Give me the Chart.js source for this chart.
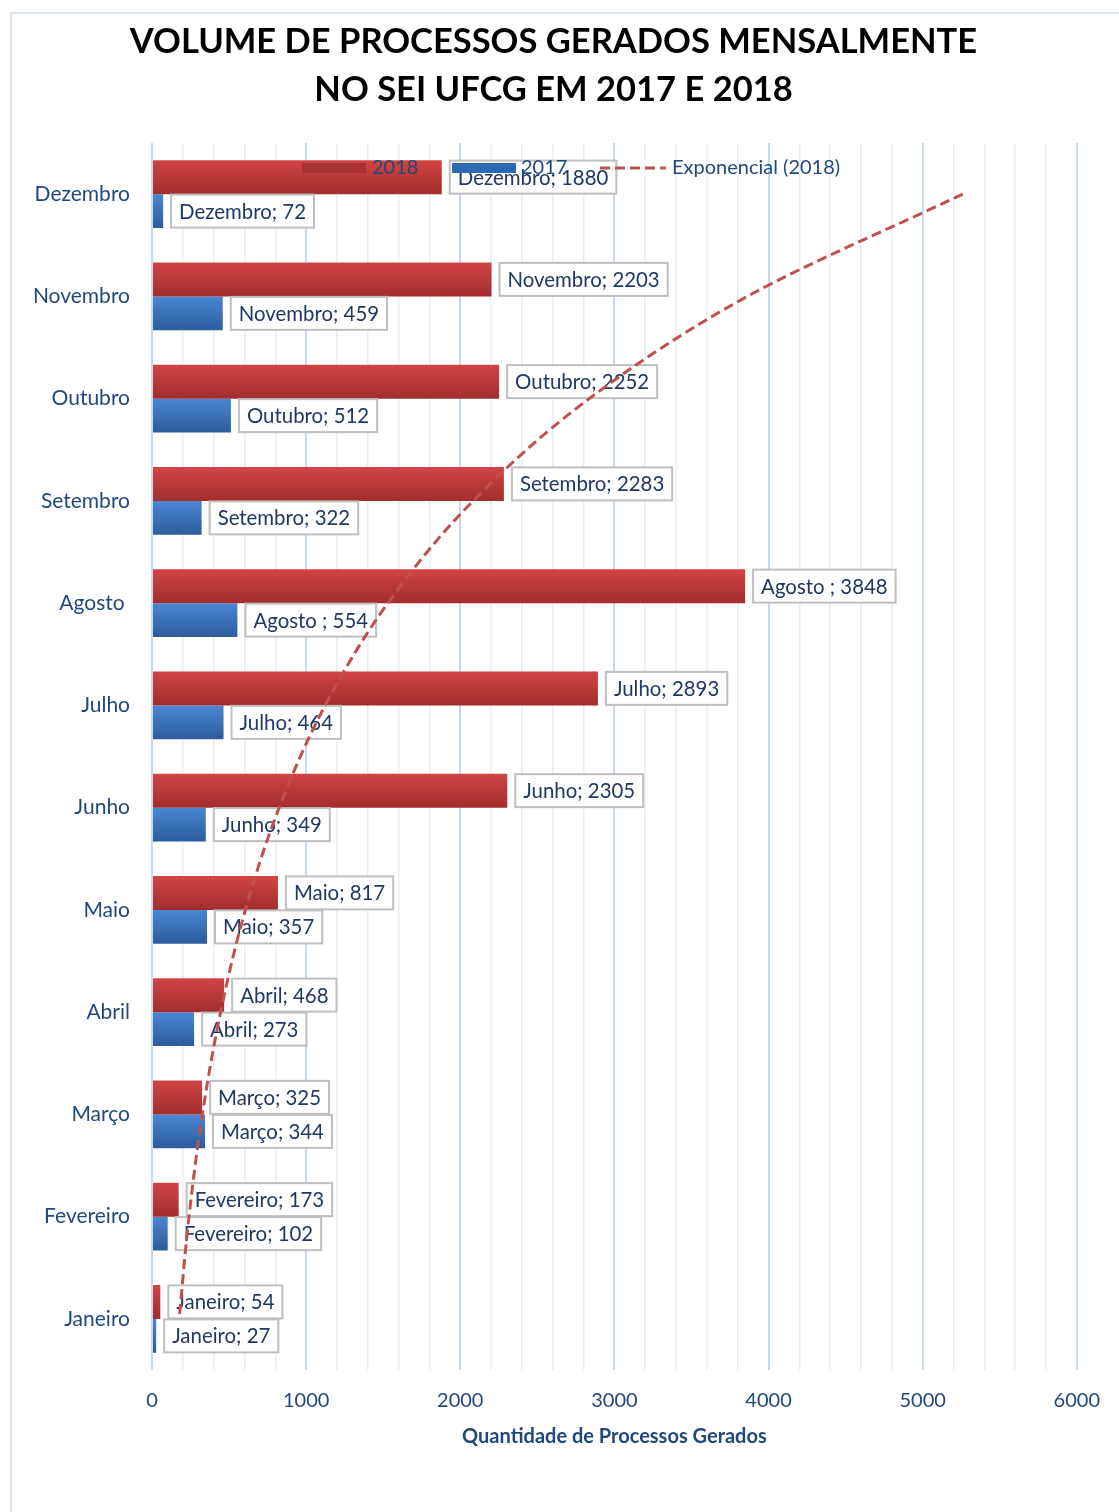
<!DOCTYPE html>
<html>
<head>
<meta charset="utf-8">
<title>Volume de processos SEI UFCG</title>
<script src="https://cdn.jsdelivr.net/npm/chart.js@4.4.1/dist/chart.umd.min.js"></script>
<style>
  html, body { margin: 0; padding: 0; background: #fff; }
  #wrap { position: relative; width: 1119px; height: 1512px; overflow: hidden; }
  #frame { position: absolute; left: 10px; top: 12px; width: 1200px; height: 1600px;
           border-left: 2px solid #dbe5f1; border-top: 2px solid #dbe5f1; }
  #chart { position: absolute; left: 0; top: 0; }
</style>
</head>
<body>
<div id="wrap">
  <div id="frame"></div>
  <canvas id="chart" width="1119" height="1512"></canvas>
</div>
<script>
// months, Janeiro first (drawn bottom-up like the original)
const months = ['Janeiro', 'Fevereiro', 'Março', 'Abril', 'Maio', 'Junho', 'Julho', 'Agosto ', 'Setembro', 'Outubro', 'Novembro', 'Dezembro'];
const values2018 = [54, 173, 325, 468, 817, 2305, 2893, 3848, 2283, 2252, 2203, 1880];
const values2017 = [27, 102, 344, 273, 357, 349, 464, 554, 322, 512, 459, 72];
const xTickLabels = [0, 1000, 2000, 3000, 4000, 5000, 6000];
const minorStep = 200;

const FONT = 'Lato';
const TEXT_BLUE = '#1f497d';
const LABEL_BLUE = '#203864';

// exponential trendline (least squares on ln y), like Excel's "Exponencial"
function expTrend(vals) {
    const n = vals.length;
    const xs = vals.map((v, i) => i + 1);
    const ls = vals.map(v => Math.log(v));
    const mx = xs.reduce((a, b) => a + b) / n;
    const ml = ls.reduce((a, b) => a + b) / n;
    let sxy = 0, sxx = 0;
    xs.forEach((x, i) => { sxy += (x - mx) * (ls[i] - ml); sxx += (x - mx) * (x - mx); });
    const b = sxy / sxx, a = ml - b * mx;
    return xs.map(x => Math.exp(a + b * x));
}

// Dezembro on top
const labels = months.slice().reverse();
const d2018 = values2018.slice().reverse();
const d2017 = values2017.slice().reverse();
const trend = expTrend(values2018).reverse();

const CAT_PCT = 0.665;

function barGradient(topColor, bottomColor, slot) {
    return function(c) {
        const chart = c.chart;
        const y = chart.scales && chart.scales.y;
        if (!y || c.dataIndex === undefined) return topColor;
        const center = y.getPixelForValue(c.dataIndex);
        const h = (y.height / labels.length) * CAT_PCT / 2;
        if (!isFinite(center) || !isFinite(h) || h <= 0) return topColor;
        const y0 = slot === 0 ? center - h : center;
        const g = chart.ctx.createLinearGradient(0, y0, 0, y0 + h);
        g.addColorStop(0, topColor);
        g.addColorStop(1, bottomColor);
        return g;
    };
}

// value boxes, drawn after the bars but under the trendline
const boxLabels = {
    id: 'boxLabels',
    beforeDatasetDraw(chart, args) {
        if (args.meta.type !== 'line') return;
        const ctx = chart.ctx;
        ctx.save();
        ctx.font = '20.4px ' + FONT;
        ctx.textBaseline = 'middle';
        [0, 1].forEach(di => {
            const meta = chart.getDatasetMeta(di);
            meta.data.forEach((el, i) => {
                const text = labels[i] + '; ' + chart.data.datasets[di].data[i];
                const w = ctx.measureText(text).width + 16;
                const h = 33;
                const x = el.x + 8;
                const y = el.y - h / 2;
                ctx.fillStyle = '#fff';
                ctx.fillRect(x, y, w, h);
                ctx.strokeStyle = '#bfbfbf';
                ctx.lineWidth = 2;
                ctx.strokeRect(x, y, w, h);
                ctx.fillStyle = LABEL_BLUE;
                ctx.fillText(text, x + 8, el.y + 1);
            });
        });
        ctx.restore();
    }
};

// legend sits inside the plot, on top of everything
const topLegend = {
    id: 'topLegend',
    afterDraw(chart) {
        const ctx = chart.ctx;
        const cy = 168;
        ctx.save();
        ctx.font = '20px ' + FONT;
        ctx.textBaseline = 'middle';
        ctx.fillStyle = '#a83232';
        ctx.fillRect(302, cy - 5, 64, 10);
        ctx.fillStyle = TEXT_BLUE;
        ctx.fillText('2018', 372, cy);
        ctx.fillStyle = '#2f69b3';
        ctx.fillRect(452, cy - 5, 64, 10);
        ctx.fillStyle = TEXT_BLUE;
        ctx.fillText('2017', 521, cy);
        ctx.strokeStyle = '#c0504d';
        ctx.lineWidth = 3;
        ctx.setLineDash([10, 5]);
        ctx.beginPath();
        ctx.moveTo(600, cy);
        ctx.lineTo(666, cy);
        ctx.stroke();
        ctx.setLineDash([]);
        ctx.fillText('Exponencial (2018)', 672, cy);
        ctx.restore();
    }
};

new Chart(document.getElementById('chart'), {
    type: 'bar',
    data: {
        labels: labels,
        datasets: [
            {
                label: '2018',
                data: d2018,
                backgroundColor: barGradient('#d24444', '#a22d2d', 0),
                categoryPercentage: CAT_PCT,
                barPercentage: 1,
                order: 1
            },
            {
                label: '2017',
                data: d2017,
                backgroundColor: barGradient('#4a87d3', '#2b5c9c', 1),
                categoryPercentage: CAT_PCT,
                barPercentage: 1,
                order: 1
            },
            {
                type: 'line',
                label: 'Exponencial (2018)',
                data: trend,
                indexAxis: 'y',
                borderColor: '#c0504d',
                borderWidth: 3,
                borderDash: [10, 5],
                pointRadius: 0,
                fill: false,
                cubicInterpolationMode: 'monotone',
                order: 0
            }
        ]
    },
    options: {
        indexAxis: 'y',
        responsive: false,
        animation: false,
        layout: { padding: { left: 28, right: 40, top: 0, bottom: 0 } },
        plugins: {
            legend: { display: false },
            tooltip: { enabled: false },
            title: {
                display: true,
                text: ['VOLUME DE PROCESSOS GERADOS MENSALMENTE', 'NO SEI UFCG EM 2017 E 2018'],
                color: '#000',
                font: { family: FONT, size: 34.5, weight: 'bold', lineHeight: 48 / 34.5 },
                padding: { top: 18, bottom: 29 }
            }
        },
        scales: {
            x: {
                type: 'linear',
                min: xTickLabels[0],
                max: xTickLabels[xTickLabels.length - 1],
                afterFit: s => { s.height = 142; },
                ticks: {
                    stepSize: minorStep,
                    autoSkip: false,
                    maxRotation: 0,
                    padding: 19,
                    color: TEXT_BLUE,
                    font: { family: FONT, size: 20 },
                    callback: v => xTickLabels.includes(v) ? v : ''
                },
                grid: {
                    drawTicks: false,
                    color: c => xTickLabels.includes(c.tick.value) ? '#c6d9f0' : '#e8eef8',
                    lineWidth: c => xTickLabels.includes(c.tick.value) ? 2 : 1.5
                },
                border: { display: false },
                title: {
                    display: true,
                    text: 'Quantidade de Processos Gerados',
                    color: TEXT_BLUE,
                    font: { family: FONT, size: 20, weight: 'bold' },
                    padding: { top: 0, bottom: 63 }
                }
            },
            y: {
                afterFit: s => { s.width = 124; },
                ticks: {
                    padding: 14,
                    color: TEXT_BLUE,
                    font: { family: FONT, size: 21 }
                },
                grid: { display: false },
                border: { display: false }
            }
        }
    },
    plugins: [boxLabels, topLegend]
});
</script>
</body>
</html>
